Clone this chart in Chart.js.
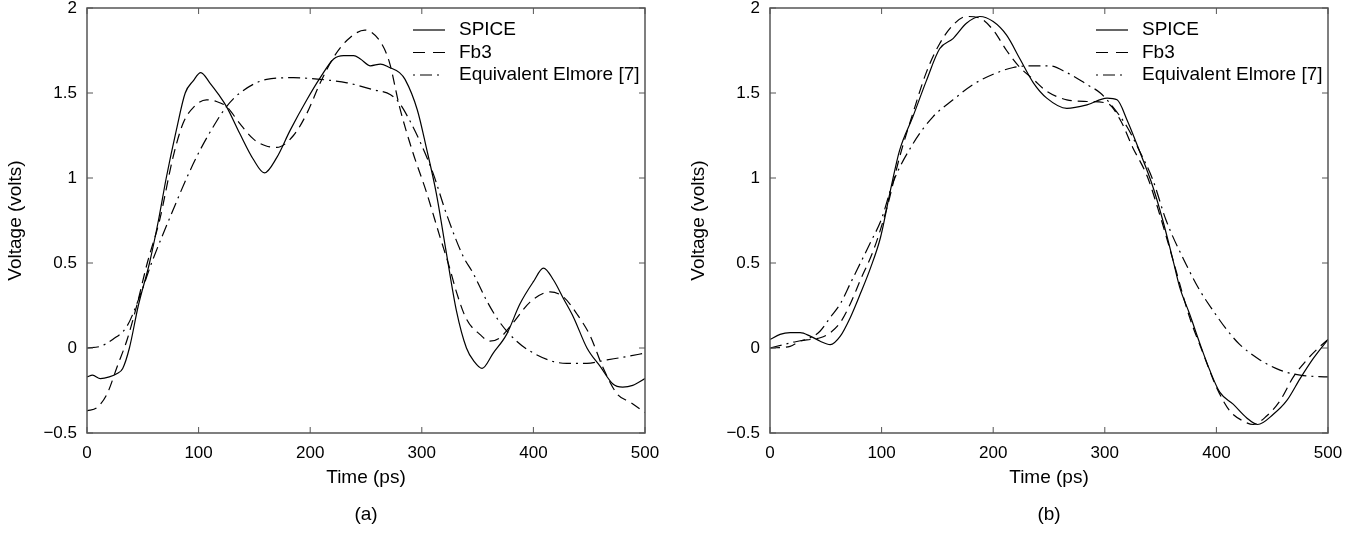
<!DOCTYPE html>
<html>
<head>
<meta charset="utf-8">
<script src="https://cdn.jsdelivr.net/npm/chart.js@4.4.0/dist/chart.umd.min.js"></script>
<style>
  html, body { margin: 0; padding: 0; background: #fff; }
  #wrap { position: relative; width: 1367px; height: 533px; }
  .panel { position: absolute; top: 0; width: 683px; height: 533px; }
</style>
</head>
<body>
<div id="wrap">
  <div class="panel" style="left:0"><canvas id="chartA" width="683" height="533"></canvas></div>
  <div class="panel" style="left:683px"><canvas id="chartB" width="683" height="533"></canvas></div>
</div>
<script>
// Axis ticks
const xTicks = [0, 100, 200, 300, 400, 500];
const yTicks = [-0.5, 0, 0.5, 1, 1.5, 2];
const yTickLabels = ["\u22120.5", "0", "0.5", "1", "1.5", "2"];
const seriesNames = ["SPICE", "Fb3", "Equivalent Elmore [7]"];

// Panel (a)
const aSpiceT = [0, 5, 12, 20, 27, 32, 38, 46, 56, 64, 71, 80, 88, 95, 102, 110, 118, 125, 137, 149, 159, 170, 182, 197, 209, 221, 230, 239, 245, 254, 263, 271, 280, 285, 296, 304, 313, 322, 331, 340, 347, 354, 364, 376, 388, 400, 409, 418, 427, 436, 448, 460, 471, 480, 489, 500];
const aSpiceV = [-0.17, -0.16, -0.18, -0.17, -0.15, -0.12, 0.0, 0.25, 0.5, 0.75, 1.0, 1.28, 1.5, 1.57, 1.62, 1.56, 1.49, 1.42, 1.26, 1.11, 1.03, 1.12, 1.28, 1.46, 1.59, 1.70, 1.72, 1.72, 1.70, 1.66, 1.67, 1.65, 1.62, 1.58, 1.40, 1.18, 0.91, 0.56, 0.22, 0.0, -0.08, -0.12, -0.03, 0.08, 0.26, 0.39, 0.47, 0.40, 0.29, 0.18, 0.0, -0.11, -0.21, -0.23, -0.22, -0.18];
const aFb3T = [0, 9, 18, 27, 36, 45, 54, 65, 77, 86, 96, 107, 116, 125, 137, 149, 160, 170, 185, 197, 209, 221, 233, 249, 263, 271, 280, 292, 304, 316, 325, 331, 340, 352, 361, 370, 382, 397, 415, 427, 439, 451, 462, 475, 487, 500];
const aFb3V = [-0.37, -0.35, -0.27, -0.11, 0.05, 0.26, 0.5, 0.75, 1.12, 1.32, 1.42, 1.46, 1.45, 1.42, 1.32, 1.23, 1.19, 1.18, 1.25, 1.38, 1.56, 1.71, 1.81, 1.87, 1.80, 1.68, 1.42, 1.15, 0.92, 0.66, 0.47, 0.33, 0.17, 0.08, 0.04, 0.06, 0.15, 0.27, 0.33, 0.30, 0.2, 0.07, -0.11, -0.27, -0.32, -0.38];
const aElmT = [0, 12, 23, 36, 47, 59, 77, 90, 101, 113, 125, 137, 161, 185, 209, 233, 256, 272, 280, 289, 298, 310, 322, 337, 346, 358, 370, 385, 400, 418, 430, 448, 466, 484, 500];
const aElmV = [0.0, 0.01, 0.05, 0.13, 0.3, 0.52, 0.81, 1.01, 1.16, 1.30, 1.42, 1.5, 1.58, 1.59, 1.58, 1.56, 1.52, 1.49, 1.44, 1.34, 1.22, 1.03, 0.79, 0.54, 0.44, 0.28, 0.15, 0.04, -0.03, -0.08, -0.09, -0.09, -0.07, -0.05, -0.03];

// Panel (b)
const bSpiceT = [0, 9, 18, 27, 36, 45, 54, 63, 72, 81, 90, 99, 108, 116, 128, 140, 152, 164, 176, 188, 200, 212, 224, 236, 248, 266, 284, 302, 311, 320, 331, 343, 352, 361, 367, 376, 385, 394, 403, 415, 427, 437, 451, 463, 475, 487, 500];
const bSpiceV = [0.05, 0.08, 0.09, 0.09, 0.07, 0.04, 0.02, 0.07, 0.18, 0.32, 0.47, 0.65, 0.93, 1.16, 1.36, 1.57, 1.76, 1.82, 1.91, 1.95, 1.92, 1.84, 1.70, 1.56, 1.47, 1.41, 1.43, 1.47, 1.46, 1.34, 1.16, 0.95, 0.75, 0.52, 0.36, 0.2, 0.03, -0.13, -0.26, -0.33, -0.41, -0.45, -0.39, -0.31, -0.18, -0.06, 0.05];
const bFb3T = [0, 18, 27, 36, 45, 54, 63, 72, 81, 93, 105, 116, 128, 140, 152, 164, 176, 188, 200, 212, 224, 236, 248, 266, 284, 302, 314, 325, 338, 349, 361, 376, 388, 400, 412, 424, 433, 445, 457, 469, 481, 493, 500];
const bFb3V = [0.0, 0.01, 0.04, 0.05, 0.06, 0.09, 0.15, 0.26, 0.4, 0.58, 0.83, 1.12, 1.38, 1.62, 1.79, 1.9, 1.95, 1.94, 1.87, 1.75, 1.65, 1.58, 1.51, 1.46, 1.45, 1.44, 1.34, 1.18, 1.01, 0.79, 0.52, 0.18, -0.03, -0.23, -0.37, -0.43, -0.45, -0.4, -0.31, -0.17, -0.07, 0.01, 0.05];
const bElmT = [0, 18, 36, 45, 54, 63, 72, 81, 90, 100, 110, 128, 146, 164, 182, 200, 218, 236, 250, 266, 284, 296, 307, 320, 331, 343, 355, 373, 385, 397, 409, 421, 439, 457, 475, 500];
const bElmV = [0.0, 0.03, 0.06, 0.1, 0.18, 0.26, 0.38, 0.5, 0.62, 0.76, 0.97, 1.2, 1.36, 1.46, 1.55, 1.61, 1.65, 1.66, 1.66, 1.62, 1.55, 1.5, 1.42, 1.3, 1.16, 0.99, 0.75, 0.49, 0.34, 0.22, 0.11, 0.02, -0.07, -0.13, -0.16, -0.17];

Chart.defaults.font.family = '"Liberation Sans", Arial, Helvetica, sans-serif';
Chart.defaults.color = "#000";

const toPoints = (t, v) => t.map((tt, i) => ({ x: tt, y: v[i] }));

// Line styles: solid, dashed, dash-dot
const dashes = [[], [10, 6], [12, 5, 2, 5]];
const legendDashes = [[], [12, 8], [2, 5, 12, 5, 2, 6]];

// Matlab-style box, inward ticks and legend inside the plot
const boxLegend = {
  id: "boxLegend",
  afterDraw(chart) {
    const { ctx, chartArea: a, scales: { x, y } } = chart;
    const seg = (x1, y1, x2, y2) => {
      ctx.beginPath(); ctx.moveTo(x1, y1); ctx.lineTo(x2, y2); ctx.stroke();
    };
    ctx.save();
    ctx.strokeStyle = "#555";
    ctx.lineWidth = 1.5;
    ctx.strokeRect(a.left, a.top, a.right - a.left, a.bottom - a.top);
    ctx.lineWidth = 1;
    x.ticks.forEach(t => {
      const px = x.getPixelForValue(t.value);
      seg(px, a.bottom, px, a.bottom - 6);
      seg(px, a.top, px, a.top + 6);
    });
    y.ticks.forEach(t => {
      const py = y.getPixelForValue(t.value);
      seg(a.left, py, a.left + 6, py);
      seg(a.right, py, a.right - 6, py);
    });

    ctx.strokeStyle = "#000";
    ctx.lineWidth = 1.2;
    ctx.fillStyle = "#000";
    ctx.font = '19px "Liberation Sans", Arial, Helvetica, sans-serif';
    ctx.textAlign = "left";
    ctx.textBaseline = "middle";
    chart.data.datasets.forEach((ds, i) => {
      const ly = a.top + 22 + i * 22.5;
      ctx.setLineDash(legendDashes[i]);
      seg(a.right - 232, ly, a.right - 200, ly);
      ctx.setLineDash([]);
      ctx.fillText(ds.label, a.right - 186, ly);
    });
    ctx.restore();
  }
};

function makeChart(id, series, tag) {
  const ctx = document.getElementById(id).getContext("2d");
  return new Chart(ctx, {
    type: "line",
    data: {
      datasets: series.map((s, i) => ({
        label: seriesNames[i],
        data: toPoints(s[0], s[1]),
        borderColor: "#000",
        borderWidth: 1.2,
        borderDash: dashes[i],
        pointRadius: 0,
        fill: false,
        cubicInterpolationMode: "monotone"
      }))
    },
    options: {
      responsive: false,
      animation: false,
      events: [],
      layout: { padding: { left: 0, right: 38, top: 8, bottom: 0 } },
      plugins: { legend: { display: false }, tooltip: { enabled: false } },
      scales: {
        x: {
          type: "linear",
          min: 0,
          max: 500,
          grid: { display: false, drawTicks: false },
          border: { display: false },
          afterBuildTicks: s => { s.ticks = xTicks.map(v => ({ value: v })); },
          ticks: { padding: 10, font: { size: 17 }, maxRotation: 0 },
          title: {
            display: true,
            text: ["Time (ps)", tag],
            font: { size: 19, lineHeight: 1.95 },
            padding: { top: 0, bottom: 0 }
          },
          afterFit: s => { s.height = 100; s.paddingLeft = 0; s.paddingRight = 0; }
        },
        y: {
          type: "linear",
          min: -0.5,
          max: 2,
          grid: { display: false, drawTicks: false },
          border: { display: false },
          afterBuildTicks: s => { s.ticks = yTicks.map(v => ({ value: v })); },
          ticks: { padding: 10, font: { size: 17 }, callback: (v, i) => yTickLabels[i] },
          title: {
            display: true,
            text: "Voltage (volts)",
            font: { size: 19 },
            padding: { top: 4, bottom: 0 }
          },
          afterFit: s => { s.width = 87; s.paddingTop = 0; s.paddingBottom = 0; }
        }
      }
    },
    plugins: [boxLegend]
  });
}

window.onload = () => {
  makeChart("chartA", [[aSpiceT, aSpiceV], [aFb3T, aFb3V], [aElmT, aElmV]], "(a)");
  makeChart("chartB", [[bSpiceT, bSpiceV], [bFb3T, bFb3V], [bElmT, bElmV]], "(b)");
};
</script>
</body>
</html>
